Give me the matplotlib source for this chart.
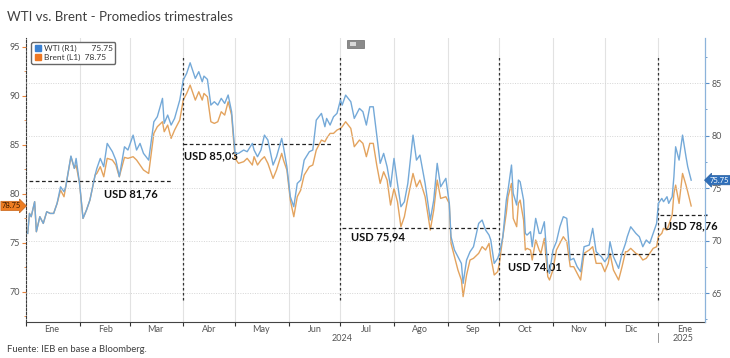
import matplotlib.pyplot as plt
import matplotlib.transforms as mtransforms
from matplotlib.lines import Line2D
from matplotlib.patches import Rectangle
import pandas as pd

plt.rcParams['font.family'] = ['Lato', 'DejaVu Sans']

# dias desde el 01/01/2024
dias = [1, 2, 3, 5, 6, 8, 10, 12, 14, 16, 18, 20, 22, 23, 26, 28, 29, 31, 33, 35,
        37, 40, 41, 43, 45, 47, 50, 52, 54, 57, 59, 62, 64, 66, 68, 71, 74, 76, 79, 80,
        82, 84, 86, 89, 91, 93, 95, 98, 100, 102, 103, 105, 107, 109, 111, 113, 115, 117, 119, 121,
        123, 126, 128, 131,
        132, 134, 136, 138, 140, 143, 145, 148, 149, 151, 153, 155, 157, 159, 161, 164, 166, 168, 171, 173,
        174, 176, 178, 180, 182, 183, 185, 188, 190, 193, 195, 197, 199, 201, 203, 205, 207, 209, 211, 213,
        215, 217, 219, 221, 224, 226, 228, 231, 234, 236, 238, 240, 243, 245, 246, 248, 250, 252, 253, 255,
        257, 259,
        262, 264, 266, 268, 269, 271, 273, 274, 276, 278, 279, 281, 282, 284, 285, 286, 288, 289, 290, 292,
        293, 295, 297, 298, 300, 302, 303, 305, 307, 309, 311, 313, 315, 317, 319, 321, 323, 326, 328, 330,
        333, 335, 337, 338, 340, 343, 345, 347, 348, 350, 353, 355, 357, 359, 361, 363, 365, 366, 368, 369,
        371, 372, 374, 375, 376, 378, 380, 382, 383, 385]

wti = [70.68, 72.58, 72.27, 73.70, 70.84, 72.27, 71.63, 72.74, 72.58, 72.58,
       73.54, 75.12, 74.65, 75.12, 78.05, 76.87, 77.82, 75.44, 72.11, 72.90,
       73.86, 76.24, 76.87, 77.82, 77.03, 79.25, 78.46, 77.66, 76.08, 78.93,
       78.62, 80.04, 78.62, 79.25, 78.30, 77.66, 81.31, 81.79, 83.54, 81.16,
       81.95, 81.00, 81.63, 83.38, 85.28, 85.92, 86.93, 85.44, 86.08, 85.12,
       85.66, 85.35, 82.90, 83.22, 82.90, 83.54, 83.06, 83.86, 82.27, 78.30,
       78.30, 78.62, 78.46, 79.25,
       78.62, 77.98, 78.62, 80.04, 79.57, 77.19, 77.98, 79.73, 78.93, 77.03,
       74.17, 73.22, 75.44, 75.76, 77.66, 78.46, 78.62, 81.47, 82.11, 80.84,
       81.63, 81.00, 81.79, 82.11, 83.38, 82.90, 83.85, 83.22, 81.63, 82.58,
       82.27, 81.00, 82.74, 82.74, 80.04, 77.35, 78.30, 77.03, 75.12, 77.82,
       75.44, 73.22, 73.69, 75.44, 80.04, 77.66, 78.14, 75.44, 71.95, 73.86,
       77.35, 75.12, 75.92, 73.54, 70.36, 69.09, 68.46, 67.82, 65.92, 68.14,
       68.93, 69.41,
       71.63, 71.95, 71.00, 70.52, 70.05, 67.82, 68.30, 68.77, 70.36, 73.85,
       74.81, 77.19, 74.49, 73.38, 75.76, 75.60, 73.85, 70.68, 70.52, 70.84,
       69.41, 72.11, 70.68, 70.68, 71.79, 67.35, 66.87, 69.09, 69.89, 71.31,
       72.27, 72.11, 68.14, 68.30, 67.51, 67.03, 69.41, 69.57, 71.16, 68.93,
       68.46, 67.98, 68.46, 69.89, 68.46, 67.35, 68.77, 69.73, 70.36, 71.31,
       70.68, 70.36, 69.41, 70.05, 69.73, 70.68, 71.63, 73.54, 74.01, 73.70,
       74.17, 73.54, 74.17, 76.08, 78.93, 77.66, 80.04, 77.98, 77.03, 75.75]

brent = [75.95, 77.99, 77.65, 79.18, 76.12, 77.65, 76.97, 78.16, 77.99, 77.99,
         79.01, 80.37, 79.69, 80.71, 83.78, 82.59, 82.93, 81.05, 77.48, 78.33,
         79.35, 81.90, 82.07, 82.76, 81.73, 83.61, 83.44, 82.93, 81.73, 83.71,
         83.61, 83.78, 83.44, 82.93, 82.42, 82.07, 86.16, 86.84, 87.35, 86.33,
         87.01, 85.65, 86.50, 87.52, 89.56, 90.24, 91.09, 89.56, 90.41, 89.56,
         90.24, 89.90, 87.35, 87.18, 87.35, 88.37, 88.03, 89.39, 88.03, 83.61,
         83.10, 83.27, 83.61, 82.93,
         83.78, 82.93, 83.44, 83.78, 83.10, 81.56, 82.42, 84.12, 83.44, 82.42,
         79.35, 77.65, 79.69, 80.37, 81.90, 82.76, 82.93, 84.46, 85.48, 85.31,
         85.65, 86.16, 86.16, 86.50, 86.67, 86.84, 87.35, 86.67, 84.80, 85.48,
         85.14, 83.78, 85.14, 85.14, 82.93, 81.05, 82.24, 81.39, 78.84, 80.54,
         79.18, 76.63, 77.65, 79.52, 82.07, 80.71, 81.39, 79.69, 76.29, 78.33,
         81.39, 79.52, 79.69, 79.01, 74.93, 73.57, 72.21, 71.19, 69.49, 71.70,
         73.23, 73.40,
         73.91, 74.59, 74.25, 74.93, 73.57, 71.70, 72.04, 72.89, 75.61, 78.03,
         79.69, 81.05, 77.48, 76.63, 79.01, 79.35, 77.31, 74.25, 74.42, 74.25,
         73.23, 75.27, 74.25, 73.91, 75.44, 71.53, 71.19, 72.21, 74.25, 74.93,
         75.61, 75.10, 72.55, 72.55, 71.87, 71.19, 73.91, 74.25, 74.59, 72.89,
         72.89, 72.04, 72.89, 73.91, 72.21, 71.19, 72.55, 74.08, 74.08, 74.42,
         73.91, 73.74, 73.23, 73.40, 73.91, 74.42, 74.59, 75.61, 75.95, 76.46,
         76.29, 76.80, 77.82, 80.03, 80.88, 79.01, 82.07, 80.88, 80.20, 78.75]

# promedios trimestrales: nivel de la linea (eje izq.), inicio/fin en dias, etiqueta
prom_nivel = [81.3, 85.04, 76.53, 73.85, 77.8]
prom_desde = [2, 91, 183, 275, 367]
prom_hasta = [84.5, 177, 272.7, 364, 394]
prom_texto = ['USD 81,76', 'USD 85,03', 'USD 75,94', 'USD 74,01', 'USD 78,76']
prom_txt_x = [45, 91.5, 188, 279, 369]
prom_txt_y = [79.97, 83.85, 75.58, 72.52, 76.7]

cortes_trim = ['2024-04-01', '2024-07-01', '2024-10-01', '2025-01-01']
meses = ['Ene', 'Feb', 'Mar', 'Abr', 'May', 'Jun', 'Jul', 'Ago', 'Sep', 'Oct', 'Nov', 'Dic', 'Ene']

ultimo_wti = 75.75
ultimo_brent = 78.75

color_wti = '#74a9d8'
color_brent = '#e3a35e'
gris = '#555555'

inicio = pd.Timestamp('2024-01-01')
fechas = inicio + pd.to_timedelta(dias, unit='D')

fig = plt.figure(figsize=(7.3, 3.58), dpi=100)
ax = fig.add_axes([26 / 730, 36 / 358, 679 / 730, 284 / 358])
ax2 = ax.twinx()

ax.plot(fechas, brent, color=color_brent, lw=1.0, zorder=3)
ax2.plot(fechas, wti, color=color_wti, lw=1.0, zorder=3)

ax.set_xlim(inicio, inicio + pd.Timedelta(days=393))
ax.set_ylim(66.9, 95.9)
ax2.set_ylim(62.24, 89.29)

# eje x: meses
inicios_mes = pd.date_range('2024-01-01', periods=13, freq='MS')
centros_mes = inicios_mes + pd.Timedelta(days=15)
ax.set_xticks(inicios_mes)
ax.set_xticklabels([''] * len(inicios_mes))
ax.set_xticks(centros_mes, labels=meses, minor=True)
ax.tick_params(axis='x', which='major', length=3, color='#333333')
ax.tick_params(axis='x', which='minor', length=0, labelsize=6.5, labelcolor=gris, pad=2)
ax.grid(axis='x', which='major', color='#e2e2e2', lw=0.8)
ax.set_axisbelow(True)

tr = mtransforms.blended_transform_factory(ax.transData, ax.transAxes)
ax.text(pd.Timestamp('2024-07-02'), -0.058, '2024', transform=tr, ha='center', va='center',
        fontsize=6.5, color=gris)
ax.text(pd.Timestamp('2025-01-15'), -0.058, '2025', transform=tr, ha='center', va='center',
        fontsize=6.5, color=gris)
ax.plot([pd.Timestamp('2025-01-01')] * 2, [-0.04, -0.07], transform=tr, color='#888888',
        lw=0.6, clip_on=False)

# eje izquierdo (Brent)
ax.set_yticks([70, 75, 80, 85, 90, 95])
ax.set_yticks([67.5, 72.5, 77.5, 82.5, 87.5, 92.5], minor=True)
ax.tick_params(axis='y', which='major', length=3, color='#e8823a', labelsize=6.5,
               labelcolor=gris, pad=1.5)
ax.tick_params(axis='y', which='minor', length=1.5, color='#e8823a')

# eje derecho (WTI)
ax2.set_yticks([65, 70, 75, 80, 85])
ax2.set_yticks([62.5, 67.5, 72.5, 77.5, 82.5, 87.5], minor=True)
ax2.tick_params(axis='y', which='major', length=3, color='#5b8fc7', labelsize=6.5,
                labelcolor=gris, pad=1.5)
ax2.tick_params(axis='y', which='minor', length=1.5, color='#5b8fc7')
ax2.grid(axis='y', which='major', color='#d5d5d5', lw=0.7, ls=(0, (1, 1.5)))
ax2.set_axisbelow(True)

for a in (ax, ax2):
    a.spines['top'].set_visible(False)
ax.spines['right'].set_visible(False)
ax2.spines['left'].set_visible(False)
ax2.spines['bottom'].set_visible(False)
ax.spines['left'].set_linestyle((0, (2, 1.5)))
ax.spines['left'].set_color('#3a3a3a')
ax.spines['left'].set_linewidth(0.8)
ax.spines['bottom'].set_color('#444444')
ax.spines['bottom'].set_linewidth(0.8)
ax2.spines['right'].set_color('#8cb3da')
ax2.spines['right'].set_linewidth(0.9)

# lineas de corte de cada trimestre
for c in cortes_trim:
    ax.axvline(pd.Timestamp(c), ymin=0.077, ymax=0.94, color='#333333', lw=0.9,
               ls=(0, (2, 2)), zorder=4)

# promedios trimestrales
for nivel, d0, d1, txt, tx, ty in zip(prom_nivel, prom_desde, prom_hasta, prom_texto,
                                      prom_txt_x, prom_txt_y):
    ax.plot([inicio + pd.Timedelta(days=d0), inicio + pd.Timedelta(days=d1)], [nivel, nivel],
            color='#222222', lw=0.9, ls=(0, (3, 2)), zorder=4, clip_on=False)
    ax.text(inicio + pd.Timedelta(days=tx), ty, txt, fontsize=8, fontweight='bold',
            color='#111111', ha='left', va='center', zorder=5, clip_on=False)

# leyenda
manejadores = [Line2D([], [], marker='s', color='#3c82d2', ls='none', markersize=5),
               Line2D([], [], marker='s', color='#ee7722', ls='none', markersize=5)]
leg = ax2.legend(manejadores, ['WTI (R1)       %.2f' % ultimo_wti, 'Brent (L1)  %.2f' % ultimo_brent],
                 loc='upper left', bbox_to_anchor=(0.008, 0.985), borderaxespad=0,
                 fontsize=6, handlelength=0.8, handletextpad=0.3, borderpad=0.35,
                 labelspacing=0.15, fancybox=True, framealpha=1, edgecolor='#666666')
for t in leg.get_texts():
    t.set_color('#333333')

# etiquetas del ultimo valor
tr_izq = mtransforms.blended_transform_factory(ax.transAxes, ax.transData)
ax.text(-0.021, ultimo_brent, '%.2f' % ultimo_brent, transform=tr_izq, ha='center', va='center',
        fontsize=5.5, color='#3a1a00', clip_on=False, zorder=6,
        bbox=dict(boxstyle='rarrow,pad=0.15', fc='#ee7d22', ec='#c8651a', lw=0.5))
tr_der = mtransforms.blended_transform_factory(ax2.transAxes, ax2.transData)
ax2.text(1.021, ultimo_wti, '%.2f' % ultimo_wti, transform=tr_der, ha='center', va='center',
         fontsize=5.5, color='white', clip_on=False, zorder=6,
         bbox=dict(boxstyle='larrow,pad=0.15', fc='#2f6fba', ec='#2a5f9f', lw=0.5))

# boton gris de la parte superior
fig.patches.append(Rectangle((347 / 730, 1 - 48 / 358), 17 / 730, 8 / 358,
                             transform=fig.transFigure, fc='#8a8a8a', ec='#6a6a6a', lw=0.5))
fig.patches.append(Rectangle((350 / 730, 1 - 46 / 358), 6 / 730, 4 / 358,
                             transform=fig.transFigure, fc='#d8d8d8', ec='none'))

fig.text(7 / 730, 1 - 17 / 358, 'WTI vs. Brent - Promedios trimestrales', fontsize=9.5,
         color='#404040', va='center', ha='left')
fig.text(7 / 730, 1 - 350 / 358, 'Fuente: IEB en base a Bloomberg.', fontsize=6.8,
         color='#404040', va='center', ha='left')

fig.savefig('out.png', dpi=100)
